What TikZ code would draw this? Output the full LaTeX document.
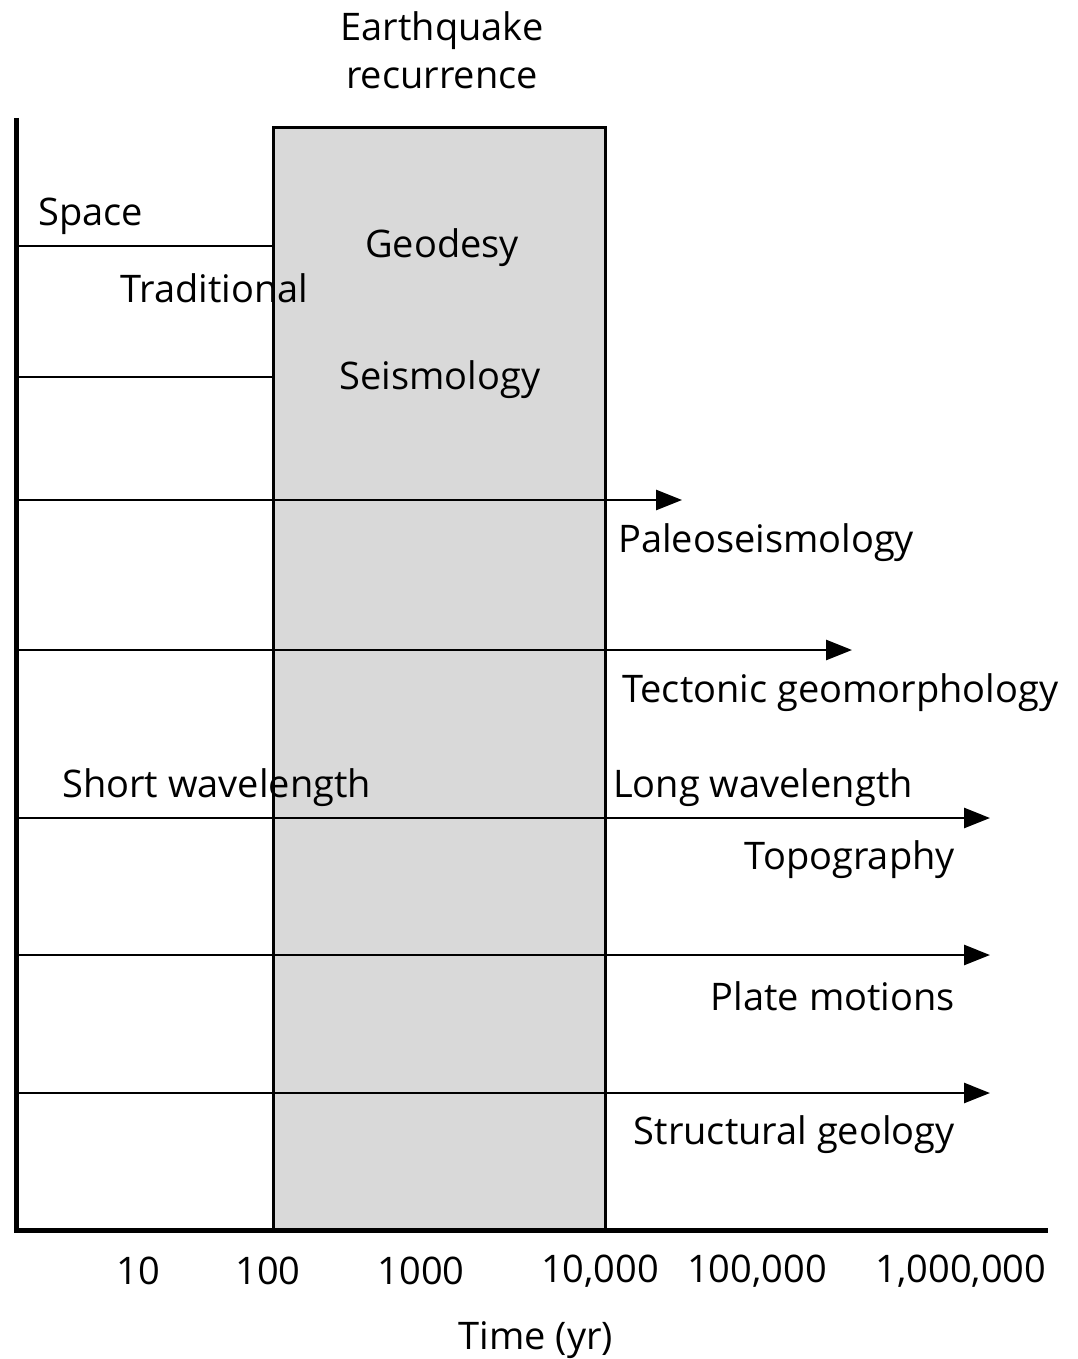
\documentclass[tikz,border=0pt]{standalone}
\usepackage{fontspec}
\setmainfont{Open Sans}
\usetikzlibrary{arrows.meta}
\begin{document}
\begin{tikzpicture}[x=1pt,y=-1pt,
  lbl/.style={inner sep=0pt,font=\fontsize{38}{44}\selectfont},
  thinline/.style={line width=2.6pt},
  axisline/.style={line width=5pt},
  arr/.style={thinline,-{Triangle[length=26pt,width=20pt]}}]
\useasboundingbox (0,0) rectangle (1078,1359);
% gray box
\node[draw,line width=2.6pt,fill=black!15,minimum width=332pt,minimum height=1104pt,inner sep=0pt,anchor=north west] (box) at (272,126) {};
% coordinates
\coordinate (a1) at (16,246); \coordinate (a1e) at (272,246);
\coordinate (a2) at (16,377); \coordinate (a2e) at (272,377);
\coordinate (b1) at (16,500); \coordinate (b1e) at (682,500);
\coordinate (b2) at (16,650); \coordinate (b2e) at (852,650);
\coordinate (b3) at (16,818); \coordinate (b3e) at (990,818);
\coordinate (b4) at (16,955); \coordinate (b4e) at (990,955);
\coordinate (b5) at (16,1093); \coordinate (b5e) at (990,1093);
\draw[thinline] (a1) -- (a1e);
\draw[thinline] (a2) -- (a2e);
\draw[arr] (b1) -- (b1e);
\draw[arr] (b2) -- (b2e);
\draw[arr] (b3) -- (b3e);
\draw[arr] (b4) -- (b4e);
\draw[arr] (b5) -- (b5e);
% axes
\coordinate (top) at (16,118);
\coordinate (orig) at (16,1230);
\coordinate (xend) at (1048,1230);
\draw[axisline] (top) -- (orig) -- (xend);
% texts
\node[lbl] (eq1) at (442,31) {Earthquake};
\node[lbl] (eq2) at (442,78) {recurrence};
\node[lbl,anchor=west] (space) at (38,216) {Space};
\node[lbl,anchor=west] (trad) at (120,288) {Traditional};
\node[lbl] (geod) at (442,248) {Geodesy};
\node[lbl] (seis) at (440,380) {Seismology};
\node[lbl,anchor=west] (paleo) at (618,543) {Paleoseismology};
\node[lbl,anchor=west] (tect) at (622,693) {Tectonic geomorphology};
\node[lbl,anchor=west] (short) at (62,788) {Short wavelength};
\node[lbl,anchor=west] (long) at (613,788) {Long wavelength};
\node[lbl,anchor=east] (topo) at (955,860) {Topography};
\node[lbl,anchor=east] (plate) at (955,996) {Plate motions};
\node[lbl,anchor=east] (struct) at (955,1135) {Structural geology};
\node[lbl] (t1) at (138,1271) {10};
\node[lbl] (t2) at (268,1271) {100};
\node[lbl] (t3) at (421,1271) {1000};
\node[lbl] (t4) at (600,1271) {10,000};
\node[lbl] (t5) at (757,1271) {100,000};
\node[lbl] (t6) at (961,1271) {1,000,000};
\node[lbl] (time) at (536,1340) {Time (yr)};
\end{tikzpicture}
\end{document}
